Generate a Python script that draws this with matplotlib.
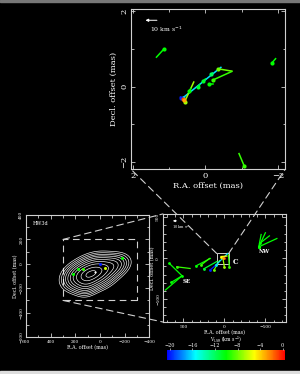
import numpy as np
import matplotlib.pyplot as plt
from matplotlib.colors import LinearSegmentedColormap, Normalize
from matplotlib.patches import Rectangle, ConnectionPatch
from matplotlib.ticker import MultipleLocator

plt.rcParams['font.family'] = ['DejaVu Serif']
fg = '#d0d0d0'

# velocity colour scale (km/s)
vel_colors = ['#0000ff', '#00ffff', '#00ff00', '#ffff00', '#ff8000', '#ff0000']
vel_stops = [0.0, 0.24, 0.5, 0.74, 0.88, 1.0]
cbar_ticks = [-20, -16, -12, -8, -4, 0]
vmin, vmax = -20.5, 0.4

# top panel: spots and vectors (mas)
top_x0 = [1.15, -1.84, -1.07, 0.62, 0.57, -0.36, -0.20, -0.09, 0.44, 0.21, 0.07, -0.16, 0.67, 0.63, 0.60]
top_y0 = [0.99, 0.63, -2.10, -0.30, -0.40, 0.47, 0.17, 0.06, -0.12, -0.01, 0.14, 0.33, -0.30, -0.33, -0.37]
top_x1 = [1.35, -1.94, -0.93, -0.43, 0.32, -0.73, -0.73, -0.20, 0.40, 0.15, 0.00, -0.20, 0.69, 0.63, 0.60]
top_y1 = [0.78, 0.74, -1.78, 0.51, 0.12, 0.41, 0.40, 0.06, -0.05, 0.05, 0.20, 0.36, -0.28, -0.33, -0.37]
top_v = [-10, -10, -9, -16, -7, -8, -9, -10, -10, -11, -11, -12, -20, -1, -3]

# bottom-left: maser spots over continuum (mas)
bl_x = [0, -42, -178, 180, 134, 215]
bl_y = [0, -32, 50, -42, -43, -86]
bl_v = [-20, -6, -10, -10, -9, -10]
peak_x, peak_y = 39, -67
# continuum model components: ra, dec, amp, sigma major, sigma minor, PA (deg)
comp_ra = [40, 170, -120, 110]
comp_dec = [-67, -110, -10, -170]
comp_amp = [1.0, 0.45, 0.3, 0.18]
comp_smaj = [95, 80, 75, 60]
comp_smin = [68, 60, 50, 50]
comp_pa = [110, 110, 110, 150]
levels = [0.05, 0.08, 0.12, 0.17, 0.24, 0.33, 0.45, 0.6, 0.8, 0.95]

# bottom-right: spots and vectors (mas)
br_x0 = [-419, -419, -430, -419, 671, 582, 516, 650, 346, 285, 250, 130, 0, -60, 175, 100, 40, 0, 20]
br_y0 = [138, 138, 180, 138, -65, -106, -216, -297, -94, -85, -130, -150, -110, -110, -146, -80, 20, -4, 5]
br_x1 = [-448, -500, -549, -640, 516, 418, 720, 516, 171, 183, 90, 60, 20, -50, 100, -41, -30, 0, 20]
br_y1 = [289, 310, 272, 240, -216, -126, -390, -216, -4, -4, -40, -30, 10, 40, -80, 57, 25, -4, 5]
br_v = [-10, -10, -10, -10, -10, -9, -10, -10, -10, -9, -11, -8, -7, -9, -20, -16, -5, -1, -3]

cmap = LinearSegmentedColormap.from_list('vel', list(zip(vel_stops, vel_colors)))
norm = Normalize(vmin, vmax)


def style(ax, fs):
    ax.set_facecolor('black')
    for s in ax.spines.values():
        s.set_color(fg)
        s.set_linewidth(0.8)
    ax.tick_params(which='both', direction='in', colors=fg, labelcolor='white',
                   top=True, right=True, labelsize=fs, width=0.6, pad=2)
    ax.tick_params(which='major', length=3)
    ax.tick_params(which='minor', length=1.8)
    ax.tick_params(axis='y', labelrotation=90)
    for t in ax.get_yticklabels():
        t.set_va('center')


def draw_vectors(ax, x0, y0, x1, y1, v, ms, lw):
    for a, b, c, d, vv in zip(x0, y0, x1, y1, v):
        col = cmap(norm(vv))
        ax.plot([a, c], [b, d], color=col, lw=lw)
        ax.plot(a, b, 'o', color=col, ms=ms, mew=0)


fig = plt.figure(figsize=(3, 3.74), dpi=100, facecolor='black')

# top panel
ax = fig.add_axes([0.437, 0.547, 0.513, 0.428])
style(ax, 6)
ax.set_xlim(2.05, -2.2)
ax.set_ylim(-2.2, 2.05)
ax.xaxis.set_major_locator(MultipleLocator(2))
ax.yaxis.set_major_locator(MultipleLocator(2))
ax.xaxis.set_minor_locator(MultipleLocator(1))
ax.yaxis.set_minor_locator(MultipleLocator(1))
draw_vectors(ax, top_x0, top_y0, top_x1, top_y1, top_v, 3.0, 1.1)
ax.annotate('', xy=(1.73, 1.76), xytext=(1.26, 1.76),
            arrowprops=dict(arrowstyle='-|>', color='white', lw=0.7, mutation_scale=4))
ax.text(1.53, 1.51, '10 km s$^{-1}$', color='white', fontsize=4.5, ha='left', va='center')
ax.set_xlabel('R.A. offset (mas)', color='white', fontsize=6, labelpad=1)
ax.set_ylabel('Decl. offset (mas)', color='white', fontsize=6, labelpad=2)
ax_top = ax

# bottom-left panel
ax = fig.add_axes([0.087, 0.099, 0.41, 0.326])
style(ax, 3.2)
ax.set_xlim(600, -400)
ax.set_ylim(-600, 400)
ax.xaxis.set_major_locator(MultipleLocator(200))
ax.yaxis.set_major_locator(MultipleLocator(200))
ax.xaxis.set_minor_locator(MultipleLocator(100))
ax.yaxis.set_minor_locator(MultipleLocator(100))
gx, gy = np.meshgrid(np.linspace(600, -400, 300), np.linspace(-600, 400, 300))
img = np.zeros_like(gx)
for r0, d0, a, sj, sn, pa in zip(comp_ra, comp_dec, comp_amp, comp_smaj, comp_smin, comp_pa):
    t = np.radians(pa)
    u = (gx - r0) * np.sin(t) + (gy - d0) * np.cos(t)
    w = (gx - r0) * np.cos(t) - (gy - d0) * np.sin(t)
    img += a * np.exp(-0.5 * ((u / sj) ** 2 + (w / sn) ** 2))
ax.contour(gx, gy, img / img.max(), levels=levels, colors='white', linewidths=0.45)
ax.plot(peak_x, peak_y, 'o', color='white', ms=1.5, mew=0)
for a, b, vv in zip(bl_x, bl_y, bl_v):
    ax.plot(a, b, 'o', color=cmap(norm(vv)), ms=2.2, mew=0)
ax.add_patch(Rectangle((-300, -300), 600, 500, fill=False, ec=fg, lw=0.8, ls=(0, (6, 4))))
ax.text(0.05, 0.95, 'HW3d', transform=ax.transAxes, color='white', fontsize=3.5, va='top')
ax.set_xlabel('R.A. offset (mas)', color='white', fontsize=3.5, labelpad=1)
ax.set_ylabel('Decl. offset (mas)', color='white', fontsize=3.5, labelpad=1)
ax_bl = ax

# bottom-right panel
ax = fig.add_axes([0.543, 0.139, 0.41, 0.289])
style(ax, 3.2)
ax.set_xlim(750, -750)
ax.set_ylim(-780, 540)
ax.xaxis.set_major_locator(MultipleLocator(500))
ax.yaxis.set_major_locator(MultipleLocator(500))
ax.xaxis.set_minor_locator(MultipleLocator(100))
ax.yaxis.set_minor_locator(MultipleLocator(100))
draw_vectors(ax, br_x0, br_y0, br_x1, br_y1, br_v, 2.0, 0.9)
ax.add_patch(Rectangle((-52, -77), 146, 134, fill=False, ec=fg, lw=0.7))
ax.text(-101, -52, 'C', color='white', fontsize=5, fontweight='bold', ha='left', va='center')
ax.text(-488, 85, 'NW', color='white', fontsize=4, fontweight='bold', ha='center', va='center')
ax.text(460, -281, 'SE', color='white', fontsize=4, fontweight='bold', ha='center', va='center')
ax.annotate('', xy=(662, 455), xytext=(549, 455),
            arrowprops=dict(arrowstyle='-|>', color='white', lw=0.6, mutation_scale=3))
ax.text(640, 378, '10 km s$^{-1}$', color='white', fontsize=2.5, ha='left', va='center')
ax.set_xlabel('R.A. offset (mas)', color='white', fontsize=3.5, labelpad=0.5)
ax.set_ylabel('Decl. offset (mas)', color='white', fontsize=3.5, labelpad=1)
ax_br = ax

# colour wedge
cax = fig.add_axes([0.557, 0.037, 0.393, 0.027])
sm = plt.cm.ScalarMappable(norm=norm, cmap=cmap)
cb = fig.colorbar(sm, cax=cax, orientation='horizontal', ticks=cbar_ticks)
cb.outline.set_visible(False)
cax.xaxis.set_ticks_position('top')
cax.tick_params(colors=fg, labelcolor='white', labelsize=3.5, length=1.2, width=0.5, pad=0.3)
cax.text(0.5, 2.05, 'V$_{\\rm LSR}$ (km s$^{-1}$)', transform=cax.transAxes,
         color='white', fontsize=3.3, ha='center', va='center')

# dashed connectors between panels
dash = dict(color=fg, lw=0.8, ls=(0, (6, 4)))
for xa, ya, xb, yb in [(300, 200, 0, 1), (300, -300, 0, 0)]:
    fig.add_artist(ConnectionPatch((xa, ya), (xb, yb), coordsA=ax_bl.transData,
                                   coordsB=ax_br.transAxes, **dash))
for xa, ya, xb, yb in [(94, 57, 0, 0), (-52, 57, 1, 0)]:
    fig.add_artist(ConnectionPatch((xa, ya), (xb, yb), coordsA=ax_br.transData,
                                   coordsB=ax_top.transAxes, **dash))

# thin image border
fig.add_artist(Rectangle((0, 0.995), 1, 0.005, transform=fig.transFigure, color='#777777'))
fig.add_artist(Rectangle((0, 0), 1, 0.009, transform=fig.transFigure, color='#dddddd'))

fig.savefig('out.png', dpi=100, facecolor='black')
